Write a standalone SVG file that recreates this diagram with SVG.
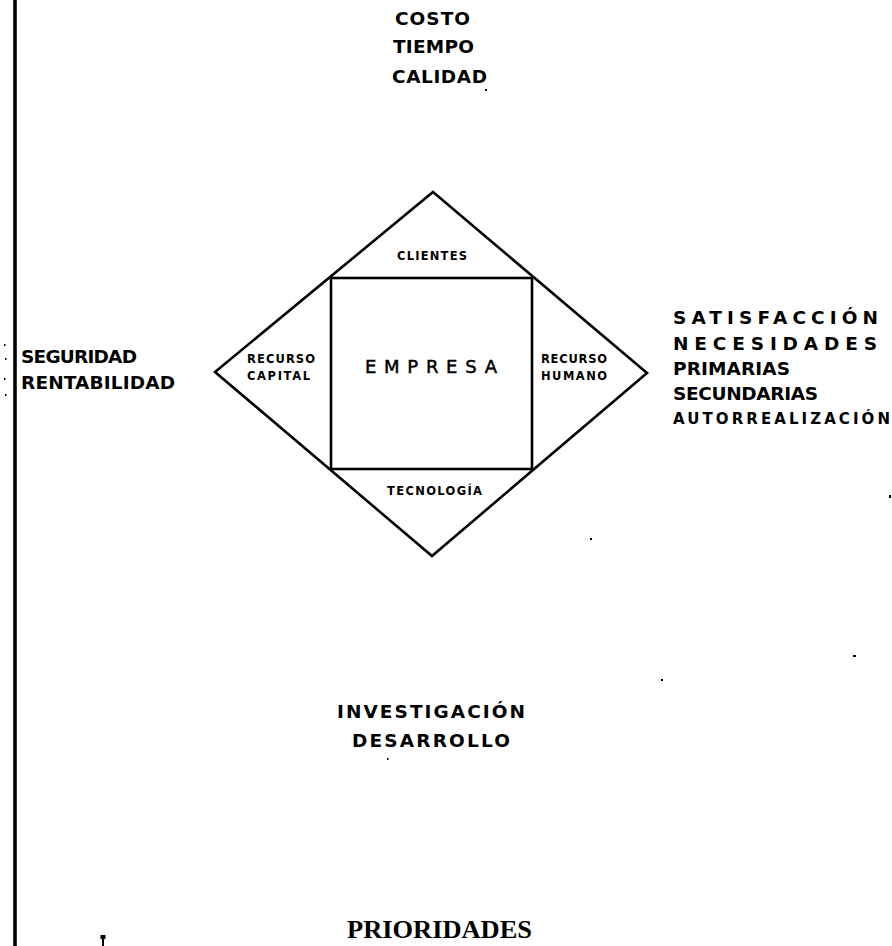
<svg xmlns="http://www.w3.org/2000/svg" width="892" height="946" viewBox="0 0 892 946">
  <style>
    .ink { fill: none; stroke: #000; stroke-width: 2.6; stroke-linejoin: miter; }
    .lbl { font-family: "DejaVu Sans", Verdana, sans-serif; font-weight: 700; fill: #000; }
    .big { font-size: 18.5px; }
    .mid { font-size: 15px; }
    .small { font-size: 11.5px; }
    .title { font-size: 18px; font-weight: 400; stroke: #000; stroke-width: 0.5; }
    .serif { font-family: "Liberation Serif", "DejaVu Serif", serif; font-weight: 700; font-size: 25px; fill: #000; }
    .speck { fill: #000; }
  </style>

  <rect width="892" height="946" fill="#fff"/>

  <!-- margin rule at the left edge -->
  <line x1="15" y1="0" x2="15" y2="946" stroke="#000" stroke-width="3.6"/>

  <!-- diamond frame split into the four outer regions -->
  <g id="connectors">
    <polygon class="ink" points="433,192 647,373 432,556 215,372"/>
  </g>

  <g id="empresa">
    <rect class="ink" x="331" y="278" width="201" height="191"/>
    <text class="lbl title" x="365" y="373" textLength="132" lengthAdjust="spacing">EMPRESA</text>
  </g>

  <g id="clientes">
    <text class="lbl small" x="397" y="260" textLength="70" lengthAdjust="spacing">CLIENTES</text>
  </g>

  <g id="recurso-capital">
    <text class="lbl small" x="247" y="363" textLength="68" lengthAdjust="spacing">RECURSO</text>
    <text class="lbl small" x="247" y="380" textLength="63" lengthAdjust="spacing">CAPITAL</text>
  </g>

  <g id="recurso-humano">
    <text class="lbl small" x="541" y="363" textLength="66" lengthAdjust="spacing">RECURSO</text>
    <text class="lbl small" x="541" y="380" textLength="66" lengthAdjust="spacing">HUMANO</text>
  </g>

  <g id="tecnologia">
    <text class="lbl small" x="387" y="495" textLength="95" lengthAdjust="spacing">TECNOLOGÍA</text>
  </g>

  <g id="costo-tiempo-calidad">
    <text class="lbl big" x="395" y="25" textLength="75" lengthAdjust="spacing">COSTO</text>
    <text class="lbl big" x="393" y="53" textLength="81" lengthAdjust="spacing">TIEMPO</text>
    <text class="lbl big" x="392" y="83" textLength="95" lengthAdjust="spacing">CALIDAD</text>
  </g>

  <g id="seguridad-rentabilidad">
    <text class="lbl big" x="21" y="363" textLength="116" lengthAdjust="spacing">SEGURIDAD</text>
    <text class="lbl big" x="21" y="389" textLength="154" lengthAdjust="spacing">RENTABILIDAD</text>
  </g>

  <g id="satisfaccion">
    <text class="lbl big" x="673" y="324" textLength="205" lengthAdjust="spacing">SATISFACCIÓN</text>
    <text class="lbl big" x="673" y="350" textLength="204" lengthAdjust="spacing">NECESIDADES</text>
    <text class="lbl big" x="673" y="375" textLength="117" lengthAdjust="spacing">PRIMARIAS</text>
    <text class="lbl big" x="673" y="400" textLength="145" lengthAdjust="spacing">SECUNDARIAS</text>
    <text class="lbl mid" x="673" y="424" textLength="217" lengthAdjust="spacing">AUTORREALIZACIÓN</text>
  </g>

  <g id="investigacion-desarrollo">
    <text class="lbl big" x="337" y="718" textLength="188" lengthAdjust="spacing">INVESTIGACIÓN</text>
    <text class="lbl big" x="352" y="747" textLength="158" lengthAdjust="spacing">DESARROLLO</text>
  </g>

  <g id="prioridades">
    <text class="serif" x="347" y="938" textLength="185" lengthAdjust="spacingAndGlyphs">PRIORIDADES</text>
  </g>

  <!-- small ink marks -->
  <g id="marks">
    <rect class="speck" x="485" y="89" width="2" height="2"/>
    <rect class="speck" x="590" y="538" width="2" height="2"/>
    <rect class="speck" x="889" y="495" width="2" height="3"/>
    <rect class="speck" x="853" y="655" width="3" height="2"/>
    <rect class="speck" x="661" y="679" width="2" height="2"/>
    <rect class="speck" x="387" y="758" width="1.5" height="2"/>
    <rect class="speck" x="4" y="344" width="1.5" height="2"/>
    <rect class="speck" x="5" y="358" width="1.5" height="2"/>
    <rect class="speck" x="4" y="378" width="1.5" height="2"/>
    <rect class="speck" x="5" y="394" width="1.5" height="2"/>
    <path class="speck" d="M100.5,935 h5 v4 h-1.5 v7 h-2 v-7 h-1.5 z"/>
  </g>
</svg>
